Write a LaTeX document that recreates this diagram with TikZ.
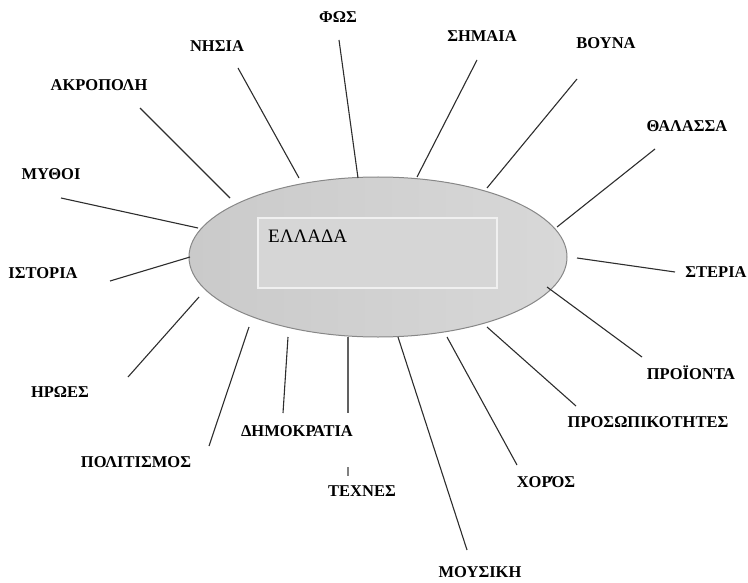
\documentclass[tikz,border=0pt]{standalone}
\usepackage{fontspec}
\setmainfont{Liberation Serif}
\usetikzlibrary{shapes.geometric}
\definecolor{elleft}{RGB}{202,202,202}
\definecolor{elright}{RGB}{216,216,216}
\definecolor{elborder}{RGB}{135,135,135}
\definecolor{boxfill}{RGB}{214,214,214}
\definecolor{boxline}{RGB}{240,240,240}
\definecolor{conn}{RGB}{45,45,45}
\tikzset{
  lbl/.style={inner sep=0pt, text height=11bp, text depth=0pt, font=\fontsize{16.5bp}{19bp}\selectfont\bfseries},
  link/.style={draw=conn, line width=1.1bp},
}
\begin{document}
\begin{tikzpicture}[x=1bp,y=-1bp]
\useasboundingbox (0,0) rectangle (748,583);
% central ellipse
\node[ellipse, inner sep=0pt, minimum width=378bp, minimum height=160bp,
      left color=elleft, right color=elright, draw=elborder, line width=1bp] (ell) at (378,257) {};
\node[draw=boxline, fill=boxfill, line width=1.3bp, minimum width=239bp, minimum height=70bp, inner sep=0pt] (box) at (377.5,253) {};
\node[anchor=west, inner sep=0pt, text height=13.5bp, text depth=0pt, font=\fontsize{19bp}{22bp}\selectfont] (title) at (268,236) {ΕΛΛΑΔΑ};

% labels
\node[lbl] (fos) at (338,17) {ΦΩΣ};
\node[lbl] (nisia) at (217,46) {ΝΗΣΙΑ};
\node[lbl] (akro) at (99,85) {ΑΚΡΟΠΟΛΗ};
\node[lbl] (mythoi) at (51,174) {ΜΥΘΟΙ};
\node[lbl] (istoria) at (43,273) {ΙΣΤΟΡΙΑ};
\node[lbl] (iroes) at (60,392) {ΗΡΩΕΣ};
\node[lbl] (polit) at (136,462) {ΠΟΛΙΤΙΣΜΟΣ};
\node[lbl] (dimo) at (297,431) {ΔΗΜΟΚΡΑΤΙΑ};
\node[lbl] (technes) at (362,491) {ΤΕΧΝΕΣ};
\node[lbl] (mousiki) at (480,572) {ΜΟΥΣΙΚΗ};
\node[lbl] (choros) at (546,482) {ΧΟΡΌΣ};
\node[lbl] (prosop) at (648,422) {ΠΡΟΣΩΠΙΚΟΤΗΤΕΣ};
\node[lbl] (proion) at (691,374) {ΠΡΟΪΟΝΤΑ};
\node[lbl] (steria) at (716,272) {ΣΤΕΡΙΑ};
\node[lbl] (thal) at (687,126) {ΘΑΛΑΣΣΑ};
\node[lbl] (vouna) at (606,43) {ΒΟΥΝΑ};
\node[lbl] (simaia) at (482,36) {ΣΗΜΑΙΑ};

% connector end points
\coordinate (fosO) at (339,40);      \coordinate (fosI) at (358,178);
\coordinate (nisiaO) at (238,68);    \coordinate (nisiaI) at (299,178);
\coordinate (akroO) at (140,108);    \coordinate (akroI) at (230,198);
\coordinate (mythoiO) at (61,198);   \coordinate (mythoiI) at (198,228);
\coordinate (istoriaO) at (110,281); \coordinate (istoriaI) at (190,257);
\coordinate (iroesO) at (128,377);   \coordinate (iroesI) at (199,297);
\coordinate (politO) at (209,446);   \coordinate (politI) at (249,327);
\coordinate (dimoO) at (283,413);    \coordinate (dimoI) at (288,337);
\coordinate (technesA) at (348,337); \coordinate (technesB) at (348,413);
\coordinate (technesC) at (348,467); \coordinate (technesD) at (348,476);
\coordinate (mousikiO) at (467,550); \coordinate (mousikiI) at (398,337);
\coordinate (chorosO) at (517,465);  \coordinate (chorosI) at (447,337);
\coordinate (prosopO) at (576,406);  \coordinate (prosopI) at (487,327);
\coordinate (proionO) at (642,357);  \coordinate (proionI) at (547,287);
\coordinate (steriaO) at (675,272);  \coordinate (steriaI) at (577,258);
\coordinate (thalO) at (655,149);    \coordinate (thalI) at (557,227);
\coordinate (vounaO) at (577,79);    \coordinate (vounaI) at (487,188);
\coordinate (simaiaO) at (477,60);   \coordinate (simaiaI) at (417,177);

% connectors
\draw[link] (fosI) -- (fosO);
\draw[link] (nisiaI) -- (nisiaO);
\draw[link] (akroI) -- (akroO);
\draw[link] (mythoiI) -- (mythoiO);
\draw[link] (istoriaI) -- (istoriaO);
\draw[link] (iroesI) -- (iroesO);
\draw[link] (politI) -- (politO);
\draw[link] (dimoI) -- (dimoO);
\draw[link, draw=conn!75] (technesA) -- (technesB);
\draw[link, draw=conn!60] (technesC) -- (technesD);
\draw[link] (mousikiI) -- (mousikiO);
\draw[link] (chorosI) -- (chorosO);
\draw[link] (prosopI) -- (prosopO);
\draw[link] (proionI) -- (proionO);
\draw[link] (steriaI) -- (steriaO);
\draw[link] (thalI) -- (thalO);
\draw[link] (vounaI) -- (vounaO);
\draw[link] (simaiaI) -- (simaiaO);
\end{tikzpicture}
\end{document}
